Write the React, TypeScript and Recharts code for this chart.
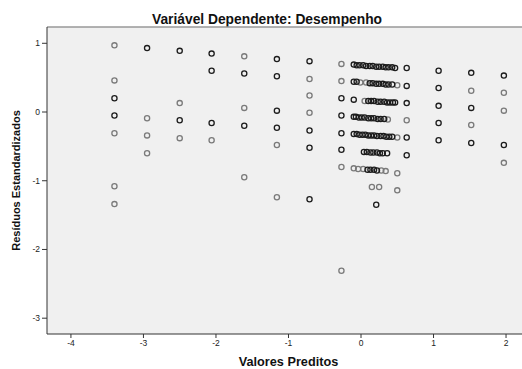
import React from "react";
import {
  ScatterChart,
  Scatter,
  XAxis,
  YAxis,
  CartesianGrid,
  ReferenceLine,
  Label,
} from "recharts";

// [valor predito, resíduo padronizado]
// pontos escuros = vários casos sobrepostos
const darkPoints: [number, number][] = [
  [-3.4, 0.2], [-3.4, -0.05],
  [-2.95, 0.93],
  [-2.5, 0.89], [-2.5, -0.12],
  [-2.06, 0.85], [-2.06, 0.6], [-2.06, -0.16],
  [-1.61, 0.56], [-1.61, -0.2],
  [-1.16, 0.77], [-1.16, 0.52], [-1.16, 0.02], [-1.16, -0.23],
  [-0.71, 0.74], [-0.71, -0.27], [-0.71, -0.52], [-0.71, -1.27],
  [-0.27, 0.2], [-0.27, -0.05], [-0.27, -0.31], [-0.27, -0.55],
  [0.63, 0.64], [0.63, 0.38], [0.63, 0.13], [0.63, -0.37], [0.63, -0.63],
  [1.07, 0.6], [1.07, 0.35], [1.07, 0.09], [1.07, -0.16], [1.07, -0.41],
  [1.52, 0.57], [1.52, 0.06], [1.52, -0.45],
  [1.97, 0.53], [1.97, -0.48],
];

// grupo central (0 a 0.5), também escuro
const clusterDark: [number, number][] = [
  [-0.1, 0.69], [-0.06, 0.68], [-0.02, 0.68], [0.03, 0.68], [0.07, 0.67], [0.12, 0.67], [0.16, 0.67],
  [0.21, 0.66], [0.25, 0.66], [0.3, 0.66], [0.34, 0.65], [0.38, 0.65], [0.43, 0.65], [0.47, 0.64],
  [-0.1, 0.44], [-0.06, 0.44], [0.12, 0.42], [0.16, 0.42], [0.21, 0.41], [0.25, 0.41], [0.3, 0.41],
  [0.34, 0.4], [0.38, 0.4], [0.43, 0.4],
  [-0.1, 0.18], [0.1, 0.16], [0.14, 0.16], [0.18, 0.16], [0.23, 0.15], [0.27, 0.15], [0.32, 0.15],
  [0.36, 0.14], [0.4, 0.14], [0.44, 0.14], [0.47, 0.14],
  [-0.1, -0.07], [-0.07, -0.07], [-0.03, -0.08], [0.01, -0.08], [0.05, -0.08], [0.1, -0.09],
  [0.14, -0.09], [0.18, -0.09], [0.23, -0.1], [0.27, -0.1], [0.32, -0.1],
  [-0.1, -0.32], [-0.06, -0.32], [-0.02, -0.33], [0.02, -0.33], [0.06, -0.33], [0.1, -0.34],
  [0.14, -0.34], [0.18, -0.34], [0.22, -0.35], [0.27, -0.35], [0.31, -0.35], [0.35, -0.36],
  [0.39, -0.36], [0.43, -0.36],
  [0.04, -0.58], [0.08, -0.58], [0.13, -0.59], [0.17, -0.59], [0.22, -0.59], [0.26, -0.6],
  [0.3, -0.6], [0.36, -0.6],
  [0.09, -0.84], [0.13, -0.84], [0.18, -0.84], [0.22, -0.85],
  [0.21, -1.35],
];

// casos isolados (cinza)
const lightPoints: [number, number][] = [
  [-3.4, 0.97], [-3.4, 0.46], [-3.4, -0.31], [-3.4, -1.08], [-3.4, -1.34],
  [-2.95, -0.09], [-2.95, -0.34], [-2.95, -0.6],
  [-2.5, 0.13], [-2.5, -0.38],
  [-2.06, -0.41],
  [-1.61, 0.81], [-1.61, 0.06], [-1.61, -0.95],
  [-1.16, -0.48], [-1.16, -1.24],
  [-0.71, 0.48], [-0.71, 0.24], [-0.71, -0.01],
  [-0.27, 0.7], [-0.27, 0.45], [-0.27, -0.8], [-0.27, -2.31],
  [0.63, -0.12],
  [1.52, 0.31], [1.52, -0.19],
  [1.97, 0.28], [1.97, 0.02], [1.97, -0.74],
  // grupo central
  [-0.01, 0.43], [0.07, 0.43], [0.5, 0.39],
  [0.05, 0.16],
  [0.37, -0.11],
  [0.5, -0.37],
  [-0.1, -0.82], [-0.04, -0.83], [0.03, -0.83], [0.28, -0.85], [0.34, -0.86], [0.5, -0.89],
  [0.15, -1.09], [0.25, -1.09], [0.5, -1.14],
];

const xTicks = [-4, -3, -2, -1, 0, 1, 2];
const yTicks = [-3, -2, -1, 0, 1];

const X_DOMAIN: [number, number] = [-4.33, 2.22];
const Y_DOMAIN: [number, number] = [-3.23, 1.237];

const FONT = "'Liberation Sans', Arial, sans-serif";

const toObj = (arr: [number, number][]) => arr.map(([x, y]) => ({ x, y }));

const ring = (color: string) => (props: any) => (
  <circle
    cx={props.cx}
    cy={props.cy}
    r={2.6}
    fill="none"
    stroke={color}
    strokeWidth={1.3}
  />
);

export default function App() {
  const tickStyle = { fontSize: 8.5, fill: "#222", fontFamily: FONT };
  return (
    <div
      style={{
        position: "absolute",
        left: 0,
        top: 0,
        width: 522,
        height: 369,
        background: "#fff",
        fontFamily: FONT,
      }}
    >
      <div
        style={{
          position: "absolute",
          left: 17,
          width: 500,
          top: 13,
          textAlign: "center",
          fontSize: 13.8,
          lineHeight: "14px",
          fontWeight: "bold",
          color: "#111",
        }}
      >
        Variável Dependente: Desempenho
      </div>
      <ScatterChart
        width={522}
        height={369}
        margin={{ top: 27, right: 0, bottom: 0, left: 0 }}
      >
        <CartesianGrid
          fill="#f0f0f0"
          horizontal={false}
          vertical={false}
          stroke="none"
        />
        <XAxis
          type="number"
          dataKey="x"
          domain={X_DOMAIN}
          ticks={xTicks}
          allowDataOverflow
          height={35}
          tickSize={4}
          axisLine={{ stroke: "#333" }}
          tickLine={{ stroke: "#333" }}
          tick={tickStyle}
        >
          <Label
            value="Valores Preditos"
            position="insideBottom"
            offset={3}
            dx={4}
            style={{ fontSize: 12.7, fontWeight: "bold", fill: "#111", fontFamily: FONT }}
          />
        </XAxis>
        <YAxis
          type="number"
          dataKey="y"
          domain={Y_DOMAIN}
          ticks={yTicks}
          allowDataOverflow
          width={47}
          tickSize={5}
          axisLine={{ stroke: "#333" }}
          tickLine={{ stroke: "#333" }}
          tick={tickStyle}
        >
          <Label
            value="Resíduos Estandardizados"
            angle={-90}
            position="center"
            dx={-7}
            style={{ fontSize: 11, fontWeight: "bold", fill: "#111", fontFamily: FONT }}
          />
        </YAxis>
        <ReferenceLine y={Y_DOMAIN[1]} stroke="#999" strokeWidth={1.5} />
        <Scatter
          data={toObj(lightPoints)}
          shape={ring("#7a7a7a")}
          isAnimationActive={false}
        />
        <Scatter
          data={toObj(darkPoints)}
          shape={ring("#1c1c1c")}
          isAnimationActive={false}
        />
        <Scatter
          data={toObj(clusterDark)}
          shape={ring("#1c1c1c")}
          isAnimationActive={false}
        />
      </ScatterChart>
    </div>
  );
}
